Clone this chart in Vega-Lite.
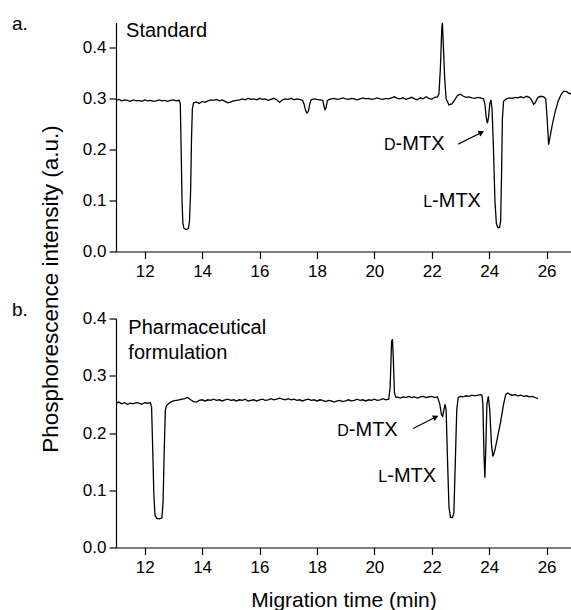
{
  "$schema": "https://vega.github.io/schema/vega-lite/v6.json",
  "autosize": {"type": "pad"},
  "padding": {"left": 12, "top": 14.5, "right": 0, "bottom": 0},
  "background": "white",
  "config": {
    "font": "Liberation Sans",
    "view": {"stroke": null},
    "axis": {"domainColor": "black", "tickColor": "black", "labelColor": "black", "titleColor": "black", "domainWidth": 1.2, "tickWidth": 1.2, "grid": false, "labelFont": "Liberation Sans", "titleFont": "Liberation Sans", "labelFontSize": 17, "titleFontSize": 21, "titleFontWeight": "normal"},
    "text": {"font": "Liberation Sans", "color": "black"}
  },
  "bounds": "flush",
  "spacing": 67,
  "datasets": {
    "traceA": [
      {"t":11.0,"v":0.297},{"t":11.1,"v":0.299},{"t":11.2,"v":0.296},{"t":11.3,"v":0.298},{"t":11.4,"v":0.297},{"t":11.5,"v":0.295},{"t":11.6,"v":0.298},{"t":11.7,"v":0.296},{"t":11.8,"v":0.297},{"t":11.9,"v":0.295},
      {"t":12.0,"v":0.298},{"t":12.1,"v":0.296},{"t":12.2,"v":0.297},{"t":12.3,"v":0.295},{"t":12.4,"v":0.296},{"t":12.5,"v":0.298},{"t":12.6,"v":0.296},{"t":12.7,"v":0.297},{"t":12.8,"v":0.295},{"t":12.9,"v":0.297},
      {"t":13.0,"v":0.298},{"t":13.1,"v":0.296},{"t":13.2,"v":0.297},{"t":13.24,"v":0.29},{"t":13.27,"v":0.2},{"t":13.3,"v":0.1},{"t":13.33,"v":0.055},{"t":13.37,"v":0.045},{"t":13.45,"v":0.043},{"t":13.52,"v":0.045},{"t":13.56,"v":0.06},{"t":13.6,"v":0.12},{"t":13.63,"v":0.22},{"t":13.66,"v":0.28},{"t":13.7,"v":0.292},{"t":13.8,"v":0.294},{"t":13.9,"v":0.291},
      {"t":14.0,"v":0.295},{"t":14.1,"v":0.293},{"t":14.2,"v":0.296},{"t":14.3,"v":0.298},{"t":14.4,"v":0.297},{"t":14.5,"v":0.299},{"t":14.6,"v":0.296},{"t":14.7,"v":0.298},{"t":14.8,"v":0.295},{"t":14.9,"v":0.292},
      {"t":15.0,"v":0.294},{"t":15.1,"v":0.296},{"t":15.2,"v":0.297},{"t":15.3,"v":0.298},{"t":15.4,"v":0.300},{"t":15.5,"v":0.298},{"t":15.6,"v":0.301},{"t":15.7,"v":0.299},{"t":15.8,"v":0.300},{"t":15.9,"v":0.298},
      {"t":16.0,"v":0.301},{"t":16.1,"v":0.299},{"t":16.2,"v":0.300},{"t":16.3,"v":0.297},{"t":16.4,"v":0.299},{"t":16.5,"v":0.301},{"t":16.6,"v":0.298},{"t":16.7,"v":0.293},{"t":16.8,"v":0.298},{"t":16.9,"v":0.300},
      {"t":17.0,"v":0.299},{"t":17.1,"v":0.301},{"t":17.2,"v":0.298},{"t":17.3,"v":0.300},{"t":17.4,"v":0.299},{"t":17.5,"v":0.297},{"t":17.55,"v":0.29},{"t":17.6,"v":0.278},{"t":17.65,"v":0.272},{"t":17.7,"v":0.275},{"t":17.75,"v":0.29},{"t":17.8,"v":0.298},{"t":17.9,"v":0.300},
      {"t":18.0,"v":0.299},{"t":18.1,"v":0.298},{"t":18.2,"v":0.297},{"t":18.25,"v":0.285},{"t":18.28,"v":0.279},{"t":18.32,"v":0.283},{"t":18.36,"v":0.296},{"t":18.4,"v":0.298},{"t":18.5,"v":0.300},{"t":18.6,"v":0.301},{"t":18.7,"v":0.299},{"t":18.8,"v":0.300},{"t":18.9,"v":0.302},
      {"t":19.0,"v":0.300},{"t":19.1,"v":0.299},{"t":19.2,"v":0.301},{"t":19.3,"v":0.300},{"t":19.4,"v":0.298},{"t":19.5,"v":0.300},{"t":19.6,"v":0.302},{"t":19.7,"v":0.300},{"t":19.8,"v":0.301},{"t":19.9,"v":0.299},
      {"t":20.0,"v":0.300},{"t":20.1,"v":0.302},{"t":20.2,"v":0.300},{"t":20.3,"v":0.299},{"t":20.4,"v":0.301},{"t":20.5,"v":0.300},{"t":20.6,"v":0.302},{"t":20.7,"v":0.304},{"t":20.8,"v":0.301},{"t":20.9,"v":0.300},
      {"t":21.0,"v":0.302},{"t":21.1,"v":0.299},{"t":21.2,"v":0.301},{"t":21.3,"v":0.303},{"t":21.4,"v":0.300},{"t":21.5,"v":0.298},{"t":21.6,"v":0.302},{"t":21.7,"v":0.300},{"t":21.8,"v":0.304},{"t":21.9,"v":0.301},
      {"t":22.0,"v":0.299},{"t":22.1,"v":0.303},{"t":22.2,"v":0.304},{"t":22.25,"v":0.31},{"t":22.3,"v":0.36},{"t":22.35,"v":0.44},{"t":22.37,"v":0.45},{"t":22.4,"v":0.41},{"t":22.45,"v":0.34},{"t":22.5,"v":0.30},{"t":22.6,"v":0.288},{"t":22.7,"v":0.29},{"t":22.8,"v":0.298},{"t":22.9,"v":0.307},
      {"t":23.0,"v":0.309},{"t":23.1,"v":0.305},{"t":23.2,"v":0.303},{"t":23.3,"v":0.304},{"t":23.4,"v":0.302},{"t":23.5,"v":0.301},{"t":23.6,"v":0.303},{"t":23.7,"v":0.302},{"t":23.8,"v":0.300},{"t":23.85,"v":0.29},{"t":23.9,"v":0.262},{"t":23.94,"v":0.252},{"t":23.98,"v":0.265},
      {"t":24.02,"v":0.29},{"t":24.06,"v":0.298},{"t":24.1,"v":0.28},{"t":24.15,"v":0.2},{"t":24.2,"v":0.1},{"t":24.25,"v":0.055},{"t":24.3,"v":0.047},{"t":24.36,"v":0.047},{"t":24.4,"v":0.06},{"t":24.43,"v":0.15},{"t":24.46,"v":0.26},{"t":24.5,"v":0.295},
      {"t":24.6,"v":0.300},{"t":24.7,"v":0.302},{"t":24.8,"v":0.301},{"t":24.9,"v":0.303},{"t":25.0,"v":0.302},{"t":25.1,"v":0.304},{"t":25.2,"v":0.302},{"t":25.3,"v":0.305},{"t":25.4,"v":0.303},{"t":25.45,"v":0.300},
      {"t":25.5,"v":0.295},{"t":25.55,"v":0.289},{"t":25.6,"v":0.292},{"t":25.7,"v":0.303},{"t":25.8,"v":0.305},{"t":25.9,"v":0.304},{"t":25.97,"v":0.30},
      {"t":26.02,"v":0.26},{"t":26.07,"v":0.21},{"t":26.12,"v":0.225},{"t":26.2,"v":0.25},{"t":26.3,"v":0.275},{"t":26.4,"v":0.295},{"t":26.5,"v":0.308},{"t":26.6,"v":0.315},{"t":26.7,"v":0.314},{"t":26.8,"v":0.310},{"t":26.85,"v":0.311}
    ],
    "traceB": [
      {"t":11.0,"v":0.252},{"t":11.1,"v":0.254},{"t":11.2,"v":0.251},{"t":11.3,"v":0.253},{"t":11.4,"v":0.250},{"t":11.5,"v":0.252},{"t":11.6,"v":0.251},{"t":11.7,"v":0.253},{"t":11.8,"v":0.252},{"t":11.9,"v":0.250},
      {"t":12.0,"v":0.253},{"t":12.1,"v":0.252},{"t":12.2,"v":0.253},{"t":12.24,"v":0.245},{"t":12.28,"v":0.17},{"t":12.32,"v":0.09},{"t":12.36,"v":0.056},{"t":12.42,"v":0.051},{"t":12.52,"v":0.050},{"t":12.6,"v":0.052},{"t":12.64,"v":0.08},{"t":12.68,"v":0.17},{"t":12.72,"v":0.24},{"t":12.76,"v":0.248},{"t":12.85,"v":0.252},{"t":12.9,"v":0.254},
      {"t":13.0,"v":0.256},{"t":13.1,"v":0.257},{"t":13.2,"v":0.258},{"t":13.3,"v":0.259},{"t":13.4,"v":0.260},{"t":13.5,"v":0.262},{"t":13.6,"v":0.258},{"t":13.7,"v":0.255},{"t":13.8,"v":0.254},{"t":13.9,"v":0.257},
      {"t":14.0,"v":0.258},{"t":14.1,"v":0.256},{"t":14.2,"v":0.258},{"t":14.3,"v":0.257},{"t":14.4,"v":0.259},{"t":14.5,"v":0.257},{"t":14.6,"v":0.258},{"t":14.7,"v":0.256},{"t":14.8,"v":0.258},{"t":14.9,"v":0.259},
      {"t":15.0,"v":0.257},{"t":15.1,"v":0.258},{"t":15.2,"v":0.256},{"t":15.3,"v":0.258},{"t":15.4,"v":0.257},{"t":15.5,"v":0.259},{"t":15.6,"v":0.256},{"t":15.7,"v":0.257},{"t":15.8,"v":0.258},{"t":15.9,"v":0.256},
      {"t":16.0,"v":0.258},{"t":16.1,"v":0.259},{"t":16.2,"v":0.257},{"t":16.3,"v":0.258},{"t":16.4,"v":0.260},{"t":16.5,"v":0.258},{"t":16.6,"v":0.259},{"t":16.7,"v":0.261},{"t":16.8,"v":0.259},{"t":16.9,"v":0.258},
      {"t":17.0,"v":0.260},{"t":17.1,"v":0.258},{"t":17.2,"v":0.259},{"t":17.3,"v":0.257},{"t":17.4,"v":0.258},{"t":17.5,"v":0.256},{"t":17.6,"v":0.258},{"t":17.7,"v":0.259},{"t":17.8,"v":0.257},{"t":17.9,"v":0.258},
      {"t":18.0,"v":0.256},{"t":18.1,"v":0.258},{"t":18.2,"v":0.257},{"t":18.3,"v":0.255},{"t":18.4,"v":0.257},{"t":18.5,"v":0.256},{"t":18.6,"v":0.254},{"t":18.7,"v":0.256},{"t":18.8,"v":0.257},{"t":18.9,"v":0.255},
      {"t":19.0,"v":0.256},{"t":19.1,"v":0.258},{"t":19.2,"v":0.256},{"t":19.3,"v":0.257},{"t":19.4,"v":0.259},{"t":19.5,"v":0.257},{"t":19.6,"v":0.258},{"t":19.7,"v":0.256},{"t":19.8,"v":0.258},{"t":19.9,"v":0.257},
      {"t":20.0,"v":0.259},{"t":20.1,"v":0.257},{"t":20.2,"v":0.258},{"t":20.3,"v":0.260},{"t":20.4,"v":0.258},{"t":20.5,"v":0.259},{"t":20.55,"v":0.28},{"t":20.6,"v":0.36},{"t":20.63,"v":0.364},{"t":20.66,"v":0.33},{"t":20.7,"v":0.27},{"t":20.75,"v":0.262},{"t":20.8,"v":0.263},{"t":20.9,"v":0.261},
      {"t":21.0,"v":0.263},{"t":21.1,"v":0.262},{"t":21.2,"v":0.264},{"t":21.3,"v":0.262},{"t":21.4,"v":0.263},{"t":21.5,"v":0.261},{"t":21.6,"v":0.263},{"t":21.7,"v":0.264},{"t":21.8,"v":0.262},{"t":21.9,"v":0.263},
      {"t":22.0,"v":0.264},{"t":22.1,"v":0.262},{"t":22.2,"v":0.263},{"t":22.28,"v":0.25},{"t":22.34,"v":0.232},{"t":22.38,"v":0.229},{"t":22.42,"v":0.24},{"t":22.46,"v":0.25},{"t":22.5,"v":0.24},{"t":22.55,"v":0.15},{"t":22.6,"v":0.07},{"t":22.65,"v":0.053},{"t":22.72,"v":0.052},{"t":22.77,"v":0.06},{"t":22.82,"v":0.15},{"t":22.87,"v":0.24},{"t":22.92,"v":0.262},
      {"t":23.0,"v":0.264},{"t":23.1,"v":0.263},{"t":23.2,"v":0.265},{"t":23.3,"v":0.264},{"t":23.4,"v":0.266},{"t":23.5,"v":0.265},{"t":23.6,"v":0.266},{"t":23.7,"v":0.267},{"t":23.75,"v":0.266},{"t":23.78,"v":0.25},{"t":23.82,"v":0.16},{"t":23.85,"v":0.122},{"t":23.88,"v":0.17},{"t":23.92,"v":0.25},{"t":23.97,"v":0.264},
      {"t":24.02,"v":0.24},{"t":24.08,"v":0.18},{"t":24.13,"v":0.159},{"t":24.2,"v":0.17},{"t":24.3,"v":0.195},{"t":24.4,"v":0.22},{"t":24.5,"v":0.25},{"t":24.58,"v":0.268},{"t":24.65,"v":0.27},{"t":24.7,"v":0.268},{"t":24.8,"v":0.266},{"t":24.9,"v":0.267},
      {"t":25.0,"v":0.265},{"t":25.1,"v":0.266},{"t":25.2,"v":0.264},{"t":25.3,"v":0.265},{"t":25.4,"v":0.263},{"t":25.5,"v":0.264},{"t":25.6,"v":0.262},{"t":25.7,"v":0.260}
    ],
    "labA": [
      {"t":11.35,"v":0.422,"txt":"Standard","kind":"main"},
      {"t":20.74,"v":0.199,"txt":"D","kind":"sc"},
      {"t":20.74,"v":0.199,"txt":"-MTX","kind":"suf"},
      {"t":22.01,"v":0.087,"txt":"L","kind":"sc"},
      {"t":22.01,"v":0.087,"txt":"-MTX","kind":"suf"}
    ],
    "labB": [
      {"t":11.43,"v":0.3726,"txt":"Pharmaceutical","kind":"main"},
      {"t":11.43,"v":0.330,"txt":"formulation","kind":"main"},
      {"t":19.11,"v":0.195,"txt":"D","kind":"sc"},
      {"t":19.11,"v":0.195,"txt":"-MTX","kind":"suf"},
      {"t":20.45,"v":0.115,"txt":"L","kind":"sc"},
      {"t":20.45,"v":0.115,"txt":"-MTX","kind":"suf"}
    ],
    "arrA": [{"t":22.92,"v":0.211,"t2":23.73,"v2":0.234}],
    "arrB": [{"t":21.35,"v":0.208,"t2":22.14,"v2":0.228}]
  },
  "vconcat": [
    {
      "width": 455,
      "height": 229,
      "title": {"text": "a.", "anchor": "start", "frame": "group", "dx": -104, "dy": 28.5, "offset": 0, "baseline": "alphabetic", "fontSize": 19, "fontWeight": "normal", "font": "Liberation Sans", "color": "black"},
      "layer": [
        {
          "data": {"name": "traceA"},
          "mark": {"type": "line", "color": "black", "strokeWidth": 1.3, "clip": true},
          "encoding": {
            "x": {"field": "t", "type": "quantitative", "scale": {"domain": [11, 26.85], "nice": false, "zero": false},
              "axis": {"title": null, "values": [12,13,14,15,16,17,18,19,20,21,22,23,24,25,26], "labelExpr": "datum.value % 2 == 0 ? datum.label : ''", "tickSize": {"condition": {"test": "datum.value % 2 != 0", "value": 4}, "value": 7}, "labelPadding": 5, "labelFlush": false}},
            "y": {"field": "v", "type": "quantitative", "scale": {"domain": [0, 0.45], "nice": false},
              "axis": {"title": "Phosphorescence intensity (a.u.)", "titleFontSize": 22.5, "titleY": 266, "titleX": -59, "titleBaseline": "alphabetic", "titleAngle": -90, "titleAlign": "center", "format": ".1f", "values": [0,0.05,0.1,0.15,0.2,0.25,0.3,0.35,0.4], "labelExpr": "round(datum.value*20) % 2 == 0 ? datum.label : ''", "tickSize": {"condition": {"test": "round(datum.value*20) % 2 != 0", "value": 4}, "value": 7}, "labelPadding": 3, "labelFlush": false}}
          }
        },
        {
          "data": {"name": "labA"},
          "transform": [{"filter": "datum.kind == 'main'"}],
          "mark": {"type": "text", "align": "left", "baseline": "alphabetic", "fontSize": 20},
          "encoding": {"x": {"field": "t", "type": "quantitative"}, "y": {"field": "v", "type": "quantitative"}, "text": {"field": "txt"}}
        },
        {
          "data": {"name": "labA"},
          "transform": [{"filter": "datum.kind == 'sc'"}],
          "mark": {"type": "text", "align": "right", "baseline": "alphabetic", "fontSize": 16},
          "encoding": {"x": {"field": "t", "type": "quantitative"}, "y": {"field": "v", "type": "quantitative"}, "text": {"field": "txt"}}
        },
        {
          "data": {"name": "labA"},
          "transform": [{"filter": "datum.kind == 'suf'"}],
          "mark": {"type": "text", "align": "left", "baseline": "alphabetic", "fontSize": 20},
          "encoding": {"x": {"field": "t", "type": "quantitative"}, "y": {"field": "v", "type": "quantitative"}, "text": {"field": "txt"}}
        },
        {
          "data": {"name": "arrA"},
          "mark": {"type": "rule", "color": "black", "strokeWidth": 1.2},
          "encoding": {"x": {"field": "t", "type": "quantitative"}, "y": {"field": "v", "type": "quantitative"}, "x2": {"field": "t2"}, "y2": {"field": "v2"}}
        },
        {
          "data": {"name": "arrA"},
          "mark": {"type": "point", "shape": "triangle-right", "filled": true, "color": "black", "size": 40, "angle": 333, "opacity": 1},
          "encoding": {"x": {"field": "t2", "type": "quantitative"}, "y": {"field": "v2", "type": "quantitative"}}
        }
      ]
    },
    {
      "width": 455,
      "height": 229,
      "title": {"text": "b.", "anchor": "start", "frame": "group", "dx": -104, "dy": 25, "offset": 0, "baseline": "alphabetic", "fontSize": 19, "fontWeight": "normal", "font": "Liberation Sans", "color": "black"},
      "layer": [
        {
          "data": {"name": "traceB"},
          "mark": {"type": "line", "color": "black", "strokeWidth": 1.3},
          "encoding": {
            "x": {"field": "t", "type": "quantitative", "scale": {"domain": [11, 26.85], "nice": false, "zero": false},
              "axis": {"title": "Migration time (min)", "titleY": 59, "titleBaseline": "alphabetic", "values": [12,13,14,15,16,17,18,19,20,21,22,23,24,25,26], "labelExpr": "datum.value % 2 == 0 ? datum.label : ''", "tickSize": {"condition": {"test": "datum.value % 2 != 0", "value": 4}, "value": 7}, "labelPadding": 5, "labelFlush": false}},
            "y": {"field": "v", "type": "quantitative", "scale": {"domain": [0, 0.4], "nice": false},
              "axis": {"title": null, "format": ".1f", "values": [0,0.05,0.1,0.15,0.2,0.25,0.3,0.35,0.4], "labelExpr": "round(datum.value*20) % 2 == 0 ? datum.label : ''", "tickSize": {"condition": {"test": "round(datum.value*20) % 2 != 0", "value": 4}, "value": 7}, "labelPadding": 3, "labelFlush": false}}
          }
        },
        {
          "data": {"name": "labB"},
          "transform": [{"filter": "datum.kind == 'main'"}],
          "mark": {"type": "text", "align": "left", "baseline": "alphabetic", "fontSize": 20},
          "encoding": {"x": {"field": "t", "type": "quantitative"}, "y": {"field": "v", "type": "quantitative"}, "text": {"field": "txt"}}
        },
        {
          "data": {"name": "labB"},
          "transform": [{"filter": "datum.kind == 'sc'"}],
          "mark": {"type": "text", "align": "right", "baseline": "alphabetic", "fontSize": 16},
          "encoding": {"x": {"field": "t", "type": "quantitative"}, "y": {"field": "v", "type": "quantitative"}, "text": {"field": "txt"}}
        },
        {
          "data": {"name": "labB"},
          "transform": [{"filter": "datum.kind == 'suf'"}],
          "mark": {"type": "text", "align": "left", "baseline": "alphabetic", "fontSize": 20},
          "encoding": {"x": {"field": "t", "type": "quantitative"}, "y": {"field": "v", "type": "quantitative"}, "text": {"field": "txt"}}
        },
        {
          "data": {"name": "arrB"},
          "mark": {"type": "rule", "color": "black", "strokeWidth": 1.2},
          "encoding": {"x": {"field": "t", "type": "quantitative"}, "y": {"field": "v", "type": "quantitative"}, "x2": {"field": "t2"}, "y2": {"field": "v2"}}
        },
        {
          "data": {"name": "arrB"},
          "mark": {"type": "point", "shape": "triangle-right", "filled": true, "color": "black", "size": 40, "angle": 333, "opacity": 1},
          "encoding": {"x": {"field": "t2", "type": "quantitative"}, "y": {"field": "v2", "type": "quantitative"}}
        }
      ]
    }
  ]
}
